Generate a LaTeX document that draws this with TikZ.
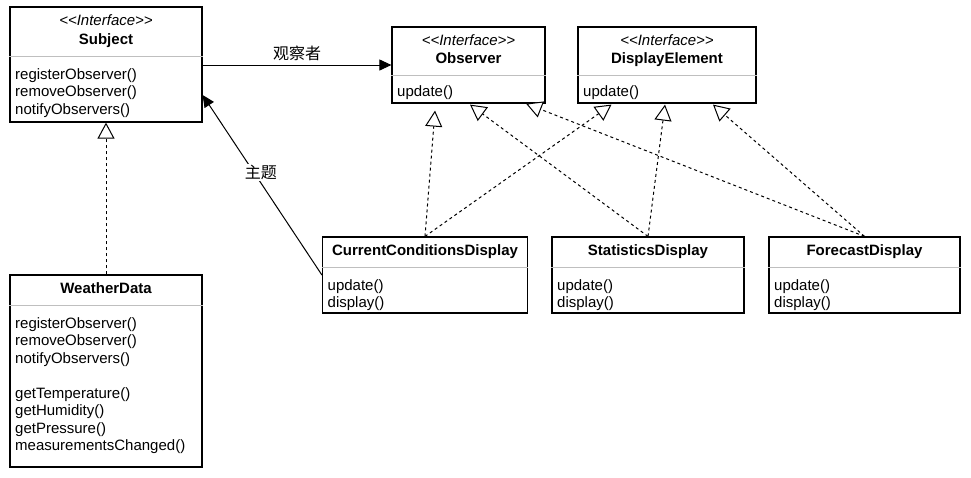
\documentclass[tikz,border=0pt]{standalone}
\usepackage{fontspec}
\setmainfont{Liberation Sans}
\newfontfamily\cjk{Noto Sans CJK SC}
\usetikzlibrary{arrows.meta}
\newcommand{\umlsize}{\fontsize{15}{17.5}\selectfont}
\tikzset{
	classbox/.style={draw, line width=1.2pt, inner sep=0pt},
	divider/.style={draw=gray!50, line width=1pt},
	stereo/.style={anchor=base, inner sep=0pt, font=\umlsize\itshape},
	classname/.style={anchor=base, inner sep=0pt, font=\umlsize\bfseries},
	ops/.style={anchor=base west, inner sep=0pt, text width=185pt, align=left, font=\umlsize},
	cjklabel/.style={font=\cjk\fontsize{16}{16}\selectfont, inner sep=1pt},
	assoc/.style={-{Triangle[width=11pt,length=12pt]}, line width=1pt},
	realize/.style={-{Triangle[open,width=17pt,length=16pt,fill=white]}, dash pattern=on 3pt off 3pt, line width=1pt},
}

\begin{document}
\begin{tikzpicture}[x=1pt, y=-1pt, font=\umlsize]
	\useasboundingbox (0,0) rectangle (971,477);

	\node[classbox, minimum width=192pt, minimum height=115pt] (subject) at (106,64.5) {};
	\draw[divider] (subject.west |- 0,56) -- (subject.east |- 0,56);
	\node[stereo] (subject-st) at (106,25.5) {<{}<Interface>{}>};
	\node[classname] (subject-name) at (106,44.5) {Subject};
	\node[ops] (subject-ops) at (15,79) {registerObserver()\\removeObserver()\\notifyObservers()};

	\node[classbox, minimum width=153pt, minimum height=76pt] (observer) at (468.5,65) {};
	\draw[divider] (observer.west |- 0,75) -- (observer.east |- 0,75);
	\node[stereo] (observer-st) at (468.5,45) {<{}<Interface>{}>};
	\node[classname] (observer-name) at (468.5,63.5) {Observer};
	\node[ops] (observer-ops) at (397,96.7) {update()};

	\node[classbox, minimum width=178pt, minimum height=76pt] (display) at (667,65) {};
	\draw[divider] (display.west |- 0,75) -- (display.east |- 0,75);
	\node[stereo] (display-st) at (667,45) {<{}<Interface>{}>};
	\node[classname] (display-name) at (667,63.5) {DisplayElement};
	\node[ops] (display-ops) at (583,96.7) {update()};

	\node[classbox, minimum width=205pt, minimum height=76pt] (ccd) at (425,275) {};
	\draw[divider] (ccd.west |- 0,267.5) -- (ccd.east |- 0,267.5);
	\node[classname] (ccd-name) at (425,255.5) {CurrentConditionsDisplay};
	\node[ops] (ccd-ops) at (327.5,290) {update()\\display()};

	\node[classbox, minimum width=192pt, minimum height=76pt] (stats) at (648,275) {};
	\draw[divider] (stats.west |- 0,267.5) -- (stats.east |- 0,267.5);
	\node[classname] (stats-name) at (648,255.5) {StatisticsDisplay};
	\node[ops] (stats-ops) at (557,290) {update()\\display()};

	\node[classbox, minimum width=191pt, minimum height=76pt] (forecast) at (864.5,275) {};
	\draw[divider] (forecast.west |- 0,267.5) -- (forecast.east |- 0,267.5);
	\node[classname] (forecast-name) at (864.5,255.5) {ForecastDisplay};
	\node[ops] (forecast-ops) at (774,290) {update()\\display()};

	\node[classbox, minimum width=192pt, minimum height=192pt] (weather) at (106,371) {};
	\draw[divider] (weather.west |- 0,305) -- (weather.east |- 0,305);
	\node[classname] (weather-name) at (106,293.3) {WeatherData};
	\node[ops] (weather-ops) at (15,328) {registerObserver()\\removeObserver()\\notifyObservers()\\[17.5pt]getTemperature()\\getHumidity()\\getPressure()\\measurementsChanged()};

	\draw[assoc] (subject.east |- observer.west) -- node[above=3pt, cjklabel] (observer-label) {观察者} (observer.west);
	\draw[assoc] (ccd.west) -- node[pos=0.57, xshift=7pt, fill=white, cjklabel] (subject-label) {主题} ([yshift=-30.5pt]subject.east);

	\draw[realize] (weather.north) -- (subject.south);
	\draw[realize] (ccd.north) -- ([shift={(-33.5pt,-7pt)}]observer.south);
	\draw[realize] (ccd.north) -- ([shift={(-55.5pt,-1pt)}]display.south);
	\draw[realize] (stats.north) -- ([shift={(1.5pt,-1pt)}]observer.south);
	\draw[realize] (stats.north) -- ([shift={(-2pt,-1pt)}]display.south);
	\draw[realize] (forecast.north) -- ([shift={(57.5pt,0pt)}]observer.south);
	\draw[realize] (forecast.north) -- ([shift={(46pt,-1pt)}]display.south);
\end{tikzpicture}
\end{document}
